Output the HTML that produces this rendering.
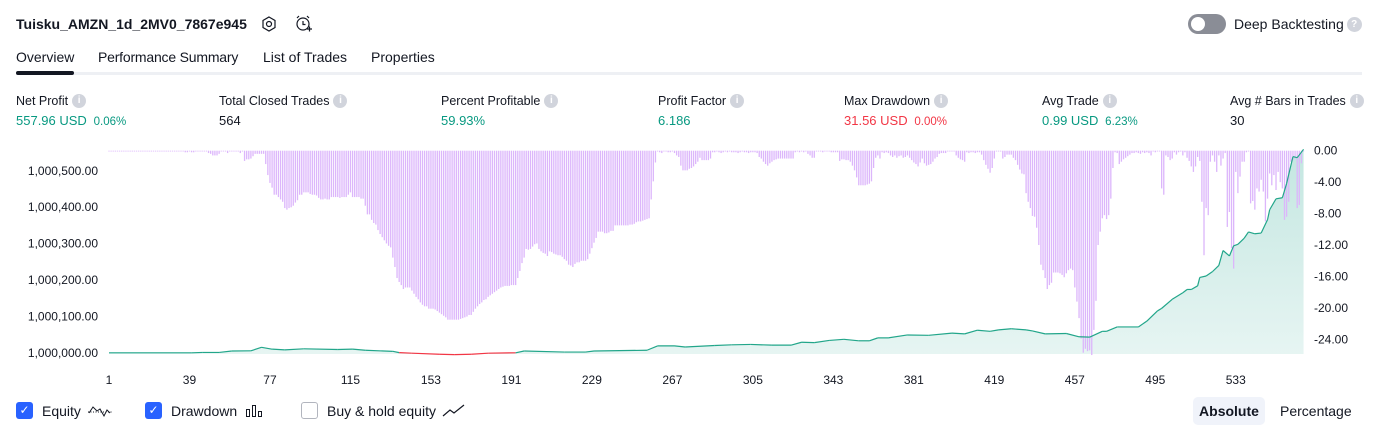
<!DOCTYPE html>
<html><head><meta charset="utf-8">
<style>
body{margin:0;width:1379px;height:435px;background:#fff;font-family:"Liberation Sans",sans-serif;color:#131722;overflow:hidden;position:relative}
.abs{position:absolute;white-space:nowrap}
.lbl{font-size:12.5px;color:#131722;display:flex;align-items:center}
.val{font-size:13px}
.info{display:inline-block;width:14px;height:14px;border-radius:50%;background:#d1d4dc;color:#fff;font-size:10px;text-align:center;line-height:14px;margin-left:4px;font-weight:bold}
.g{color:#089981}.r{color:#f23645}
.leg{display:flex;align-items:center;font-size:14px}
.cb{display:inline-block;width:17px;height:17px;border-radius:3px;margin-right:9px;box-sizing:border-box}
</style></head><body>
<div class="abs" style="left:16px;top:16px;font-size:14px;font-weight:bold">Tuisku_AMZN_1d_2MV0_7867e945</div>
<svg class="abs" style="left:260px;top:15px" width="18" height="18"><polygon points="9,2 15,5.5 15,12.5 9,16 3,12.5 3,5.5" fill="none" stroke="#131722" stroke-width="1.2"/><circle cx="9" cy="9" r="2.5" fill="none" stroke="#131722" stroke-width="1.2"/></svg>
<svg class="abs" style="left:294px;top:14px" width="20" height="20"><circle cx="9" cy="10" r="6" fill="none" stroke="#131722" stroke-width="1.2"/><path d="M9 7v3.5h2.5M3 4l2-2M15 4l-2-2M13 15h5M15.5 12.5v5" fill="none" stroke="#131722" stroke-width="1.2"/></svg>
<div class="abs" style="left:1188px;top:14px;width:38px;height:20px;border-radius:10px;background:#8a8d96"><div style="position:absolute;left:3px;top:3px;width:14px;height:14px;border-radius:50%;background:#fff"></div></div>
<div class="abs lbl" style="left:1234px;top:16px;font-size:14px">Deep Backtesting<span class="info" style="width:15px;height:15px;line-height:15px;margin-left:3px">?</span></div>
<div class="abs" style="left:16px;top:49px;font-size:14px">Overview</div>
<div class="abs" style="left:98px;top:49px;font-size:14px;letter-spacing:-0.2px">Performance Summary</div>
<div class="abs" style="left:263px;top:49px;font-size:14px">List of Trades</div>
<div class="abs" style="left:371px;top:49px;font-size:14px">Properties</div>
<div class="abs" style="left:16px;top:72px;width:1346px;height:3px;background:#eef0f4"></div>
<div class="abs" style="left:16px;top:71px;width:58px;height:4px;border-radius:2px;background:#131722"></div>

<div class="abs lbl" style="left:16px;top:94px">Net Profit<span class="info">i</span></div>
<div class="abs val g" style="left:16px;top:113px">557.96 USD <span style="font-size:11.5px">&nbsp;0.06%</span></div>
<div class="abs lbl" style="left:219px;top:94px">Total Closed Trades<span class="info">i</span></div>
<div class="abs val" style="left:219px;top:113px">564</div>
<div class="abs lbl" style="left:441px;top:94px">Percent Profitable<span class="info">i</span></div>
<div class="abs val g" style="left:441px;top:113px">59.93%</div>
<div class="abs lbl" style="left:658px;top:94px">Profit Factor<span class="info">i</span></div>
<div class="abs val g" style="left:658px;top:113px">6.186</div>
<div class="abs lbl" style="left:844px;top:94px">Max Drawdown<span class="info">i</span></div>
<div class="abs val r" style="left:844px;top:113px">31.56 USD <span style="font-size:11.5px">&nbsp;0.00%</span></div>
<div class="abs lbl" style="left:1042px;top:94px">Avg Trade<span class="info">i</span></div>
<div class="abs val g" style="left:1042px;top:113px">0.99 USD <span style="font-size:11.5px">&nbsp;6.23%</span></div>
<div class="abs lbl" style="left:1230px;top:94px">Avg # Bars in Trades<span class="info">i</span></div>
<div class="abs val" style="left:1230px;top:113px">30</div>

<svg id="chart" class="abs" style="left:0;top:0" width="1379" height="435" font-family="Liberation Sans, sans-serif" font-size="12" fill="#131722">
<defs><linearGradient id="eqg" x1="0" y1="150" x2="0" y2="354" gradientUnits="userSpaceOnUse"><stop offset="0" stop-color="#089981" stop-opacity="0.24"/><stop offset="1" stop-color="#089981" stop-opacity="0.1"/></linearGradient></defs>
</svg>

<div class="abs leg" style="left:16px;top:402px"><span class="cb" style="background:#2962ff;color:#fff;font-size:12px;text-align:center;line-height:17px">✓</span>Equity<svg width="26" height="14" style="margin-left:6px"><path d="M1 8h24" stroke="#131722" stroke-dasharray="1 1.5"/><path d="M2 9l4-6 4 4 3-2 4 7 3-6 3 3" fill="none" stroke="#131722" stroke-width="1"/></svg></div>
<div class="abs leg" style="left:145px;top:402px"><span class="cb" style="background:#2962ff;color:#fff;font-size:12px;text-align:center;line-height:17px">✓</span>Drawdown<svg width="20" height="14" style="margin-left:8px"><rect x="1.5" y="5.5" width="3" height="7" fill="none" stroke="#131722"/><rect x="7.5" y="1.5" width="3" height="11" fill="none" stroke="#131722"/><rect x="13.5" y="7.5" width="3" height="5" fill="none" stroke="#131722"/></svg></div>
<div class="abs leg" style="left:301px;top:402px"><span class="cb" style="border:1px solid #b2b5be;background:#fff"></span>Buy &amp; hold equity<svg width="24" height="14" style="margin-left:6px"><path d="M1 12l7-6 4 3 10-8" fill="none" stroke="#131722" stroke-width="1.2"/></svg></div>
<div class="abs" style="left:1193px;top:397px;width:72px;height:28px;background:#f0f3fa;border-radius:5px;font-size:14px;font-weight:bold;text-align:center;line-height:28px">Absolute</div>
<div class="abs" style="left:1280px;top:403px;font-size:14px">Percentage</div>

<script>
const drawdown=[
0,0,0,0,0,0,0,0,0,0,
0,0,0,0,0,0,0,0,0,0,
0,0,0,0,0,0,0,0,0,0,
0,0,0,0,0,0,.2,.2,.1,.2,
.2,.1,.1,.1,.1,.1,.1,.3,.4,.6,
.6,.6,.4,.1,.1,.1,.3,.1,.1,.1,
.1,.1,.3,.1,1.3,1.1,1.1,1,.7,.4,
.4,.4,.4,.4,1.7,3.1,4.1,4.7,5.6,5.6,
5.9,6.2,6.5,7.3,7.5,7.3,7.2,7,6.6,6.3,
5.6,5.6,5.3,5.3,5.3,5.5,5.6,5.6,5.7,6,
6.2,6.2,6.1,6.2,6.2,5.9,5.9,5.9,5.9,6,
5.9,5.9,5.9,5.6,5.3,5.9,5.9,5.9,5.9,6.1,
6.1,7,8.1,8.1,8.8,9.2,9.4,10.1,10.6,11,
11.4,11.8,12.1,12.3,13.6,14.8,16.2,16.7,17.1,17.6,
17.4,17.4,17.4,17.8,18.2,18.6,18.9,19.3,19.6,19.8,
19.8,20.1,20.1,20.1,20.2,20.4,20.6,20.8,21,21.2,
21.5,21.5,21.5,21.5,21.5,21.5,21.4,21.3,21.2,21.1,
20.9,20.9,20.5,20.1,19.8,19.5,19.3,19,18.9,18.6,
18.4,18.2,18,17.8,17.6,17.4,17.3,17.2,17.2,17.2,
17.1,17.1,17.1,16.2,15.3,14.3,13.6,12.5,12.6,12.5,
12.2,11.9,11.8,12.5,12.8,13,13.1,13.4,12.8,12.9,
13.1,13.2,13.3,13.3,13.5,13.8,14,14.5,14.6,14.8,
14.4,14.2,14.2,14,14,14,13.8,13.1,12.4,11.7,
11.1,10.3,10.3,10.3,10.5,10.5,10.4,10.2,10.2,9.5,
9.5,9.5,9.5,9.5,9.5,9.5,9.4,9.4,9.3,9.1,
9,9,8.9,8.8,8.7,8.6,6.2,3.9,1.5,.1,
.2,.3,.1,.1,.2,.2,.1,.3,.6,.8,
1.9,2.5,2.5,2.5,2.3,2.2,2,1.7,1.4,.9,
1.2,1.2,1.2,1.2,1,.2,.2,.1,.2,.3,
.2,.1,.2,.1,.2,.2,.2,.3,.2,.1,
.2,.2,.3,.2,.2,.2,.3,.8,1,1.4,
1.7,1.9,1.6,1.4,1.2,1.1,1,1,1,1,
1,1,1,1,.2,.1,.2,.1,.2,.1,
.4,.6,.9,.9,.1,.1,.1,.2,.1,.1,
.1,.2,.2,.2,.2,1.3,1.1,1.1,1.2,1.2,
1.4,1.9,2.5,3.4,4.4,4.4,4.4,4.4,4.3,4.2,
3.9,2.2,.9,.6,1,.2,.3,.2,.3,.6,
.8,.6,.9,.7,.6,.9,.8,.6,.9,1.2,
1.5,1.7,2,1.5,1,1.6,1.9,1.8,1.7,1.4,
1,.8,.4,.3,.3,.3,.1,.1,.1,.1,
.6,.9,1.1,1.2,1.4,.2,.3,.2,.2,.3,
.2,.2,.5,1.2,1.8,2.3,2.8,2.2,1,.1,
.1,.1,1,.8,.5,.5,.5,.9,1.2,1.8,
2.4,2.9,3,5.4,6.5,7.3,8.3,8.4,9.8,12,
14.5,15.2,16.2,17.6,17.1,16.8,15.5,15.5,15.5,15.6,
15.8,16.1,15.6,15.2,15,15.2,17.4,19.2,21.3,23.9,
25.7,25.2,25.5,25.4,26,22.8,19.1,12,10.3,8.6,
8.2,8.7,8.2,6.1,2.2,.2,.3,1.7,1.4,1.1,
.9,.7,.5,.3,.3,.2,.3,.4,.2,.3,
.2,.3,.6,.1,.2,.1,.1,4.8,5.6,.6,
.8,1.2,1,.2,.5,.2,.1,.6,.2,.9,
1.3,2,2.7,2,.8,1.3,6.5,13.3,7.3,8.2,
1.4,.6,1.4,2.7,.6,1.9,1,.3,9.7,7.8,
12.4,15,2.7,5.4,3.3,1.4,1.4,.2,.1,6.7,
6.4,7.5,4.8,5.2,3.7,5.2,9,6.1,2.9,4.4,
3.1,5,2.7,4,4.8,8.8,8.4,6.5,1.4,1.2,
1,7.3,6.9,1.6,0];
const equityTrade=[1,40,45,53,59,68,73,78,84,93,109,116,122,135,138,144,157,164,172,180,193,197,216,226,230,255,260,268,273,287,295,304,314,323,328,334,341,348,355,360,364,369,378,388,399,405,411,417,421,427,434,437,443,453,459,464,470,472,477,487,491,496,498,503,508,510,512,515,516,519,522,525,527,530,532,534,537,539,542,545,548,549,552,555,557,560,562,565];
const equityValue=[0,0,1,1,5,5.5,15,10,8,11,9,10,7,4,0.5,-1,-4,-5,-4,-1,0,5,2,2,5,7,19,19,16,20,22,23,21,21,29,28,34,37,33,33,41,41,49,48,54,52,62,59,63,66,63,60,52,53,44,43,59,59,71,71,87,115,122,147,165,174,174,184,207,211,223,240,281,266,294,298,315,332,327,329,366,393,423,426,465,539,536,559];
const xTicks=[1,39,77,115,153,191,229,267,305,343,381,419,457,495,533];
const leftTicks=[0,100,200,300,400,500];
const rightTicks=[0,4,8,12,16,20,24];
const NS='http://www.w3.org/2000/svg';
const svg=document.getElementById('chart');
const X=t=>109+(t-1)*2.118;
const YL=v=>352.8-v*0.364;
const YR=d=>150.7+d*7.86;
const BASE=354;
function mk(tag,attrs){const e=document.createElementNS(NS,tag);for(const k in attrs)e.setAttribute(k,attrs[k]);svg.appendChild(e);return e;}
// equity area
const pts=equityTrade.map((t,i)=>X(t)+','+YL(equityValue[i]));
const area=mk('polygon',{points:X(1)+','+BASE+' '+pts.join(' ')+' '+X(565)+','+BASE,fill:'url(#eqg)'});


// drawdown bars
drawdown.forEach((d,i)=>{const t=i+1;
 const b=mk('rect',{x:X(t)-0.65,y:150.7,width:1.3,height:Math.max(0.8,d*7.86),fill:'#dcb6fb'});
 
 });
for(let i=1;i<equityTrade.length;i++){const v0=equityValue[i-1],v1=equityValue[i];
 const seg=mk('line',{x1:X(equityTrade[i-1]),y1:YL(v0),x2:X(equityTrade[i]),y2:YL(v1),stroke:(v0<0||v1<0)?'#f23645':'#22a68a','stroke-width':1.2});
 
 }
xTicks.forEach(t=>{const e=mk('text',{x:X(t),y:384,'text-anchor':'middle'});e.textContent=t;
 
 });
leftTicks.forEach(v=>{const e=mk('text',{x:98,y:YL(v)+4,'text-anchor':'end'});e.textContent=(1000000+v).toLocaleString('en-US')+'.00';
 
 });
rightTicks.forEach(v=>{const e=mk('text',{x:1314,y:YR(v)+4});e.textContent=(v===0?'':'-')+v.toFixed(2);
 
 });
</script>
</body></html>
